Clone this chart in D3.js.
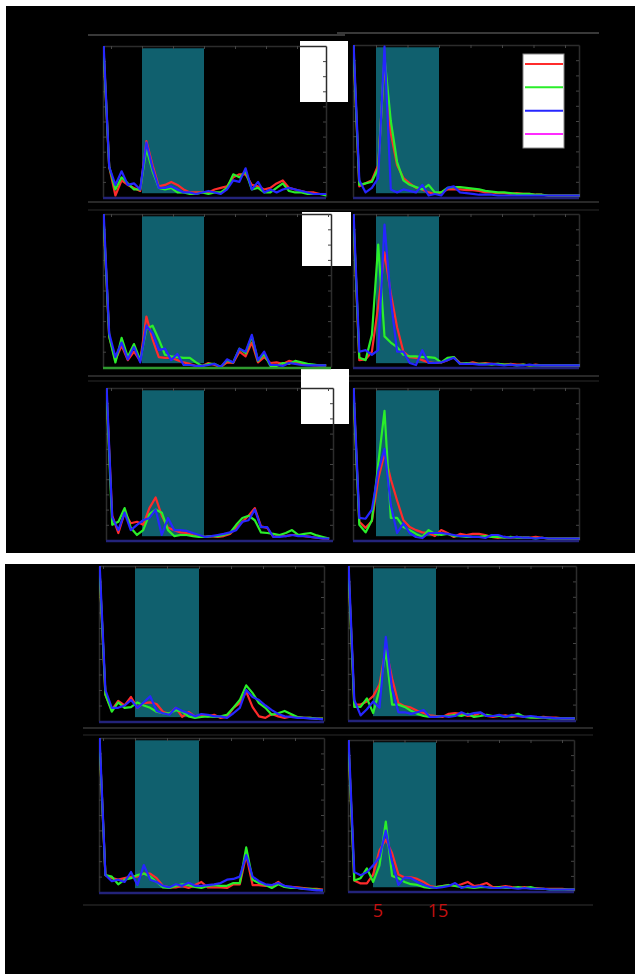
<!DOCTYPE HTML>
<html>
<head>
    <title>Spectra panels</title>
    <script src="https://d3js.org/d3.v7.min.js"></script>
    <style>
        body { margin: 0; background: #fff; }
    </style>
</head>
<body>
<script type="text/javascript">
    // frequency bins (first bin sits on the left axis of each panel)
    var freqs = [0, 1, 2, 3, 4, 5, 6, 7, 8, 9, 10, 11, 12, 13, 14, 15, 16, 17, 18,
        19, 20, 21, 22, 23, 24, 25, 26, 27, 28, 29, 30, 31, 32, 33, 34, 35, 36];
    var band = [5, 15];
    var bandLabels = ["5", "15"];
    var legendKeys = ["red", "green", "blue", "magenta"];

    // row 1
    var p1Red = [1.05, 0.2, 0.01, 0.11, 0.08, 0.06, 0.04, 0.37, 0.21, 0.07, 0.08, 0.10, 0.08, 0.05, 0.03, 0.03, 0.03, 0.03, 0.05, 0.06, 0.07, 0.13, 0.15, 0.15, 0.08, 0.07, 0.05, 0.06, 0.09, 0.11, 0.06, 0.05, 0.04, 0.03, 0.03, 0.02, 0.02];
    var p1Green = [1.05, 0.2, 0.05, 0.13, 0.09, 0.05, 0.05, 0.32, 0.17, 0.06, 0.05, 0.06, 0.03, 0.03, 0.02, 0.02, 0.03, 0.02, 0.03, 0.03, 0.06, 0.15, 0.13, 0.17, 0.05, 0.06, 0.03, 0.03, 0.06, 0.09, 0.04, 0.03, 0.03, 0.02, 0.02, 0.02, 0.01];
    var p1Blue = [1.1, 0.2, 0.08, 0.17, 0.08, 0.09, 0.05, 0.36, 0.19, 0.06, 0.06, 0.07, 0.05, 0.03, 0.03, 0.02, 0.03, 0.04, 0.03, 0.02, 0.05, 0.11, 0.10, 0.19, 0.05, 0.10, 0.03, 0.05, 0.03, 0.05, 0.06, 0.05, 0.04, 0.03, 0.02, 0.02, 0.02];

    var p2Red = [1.05, 0.07, 0.09, 0.11, 0.21, 0.9, 0.42, 0.21, 0.125, 0.09, 0.06, 0.05, 0.03, 0.02, 0.03, 0.05, 0.05, 0.05, 0.045, 0.045, 0.04, 0.03, 0.03, 0.025, 0.025, 0.02, 0.025, 0.02, 0.02, 0.015, 0.015, 0.01, 0.01, 0.01, 0.01, 0.01, 0.01];
    var p2Green = [1.05, 0.08, 0.09, 0.10, 0.19, 0.92, 0.5, 0.23, 0.11, 0.08, 0.065, 0.05, 0.08, 0.03, 0.03, 0.06, 0.065, 0.065, 0.06, 0.055, 0.05, 0.04, 0.035, 0.03, 0.03, 0.025, 0.02, 0.02, 0.02, 0.015, 0.015, 0.01, 0.01, 0.01, 0.01, 0.01, 0.01];
    var p2Blue = [1.1, 0.11, 0.03, 0.06, 0.125, 0.99, 0.05, 0.03, 0.05, 0.04, 0.03, 0.08, 0.01, 0.02, 0.01, 0.06, 0.07, 0.03, 0.025, 0.02, 0.015, 0.015, 0.015, 0.01, 0.01, 0.01, 0.01, 0.01, 0.01, 0.01, 0.01, 0.01, 0.01, 0.01, 0.01, 0.01, 0.01];

    // row 2
    var p3Red = [1.05, 0.2, 0.045, 0.14, 0.045, 0.10, 0.04, 0.33, 0.18, 0.065, 0.06, 0.06, 0.045, 0.03, 0.02, 0.007, 0.007, 0.026, 0.013, 0.0, 0.03, 0.026, 0.1, 0.07, 0.16, 0.03, 0.065, 0.026, 0.03, 0.02, 0.04, 0.03, 0.02, 0.015, 0.01, 0.01, 0.01];
    var p3Green = [1.05, 0.2, 0.03, 0.19, 0.065, 0.15, 0.045, 0.25, 0.27, 0.18, 0.08, 0.07, 0.065, 0.06, 0.06, 0.03, 0.007, 0.02, 0.02, 0.0, 0.045, 0.03, 0.12, 0.09, 0.2, 0.04, 0.085, 0.007, 0.007, 0.026, 0.02, 0.04, 0.03, 0.02, 0.015, 0.01, 0.01];
    var p3Blue = [1.1, 0.22, 0.065, 0.16, 0.05, 0.13, 0.03, 0.27, 0.22, 0.11, 0.12, 0.045, 0.085, 0.013, 0.013, 0.007, 0.007, 0.013, 0.02, 0.0, 0.05, 0.03, 0.12, 0.1, 0.21, 0.045, 0.1, 0.013, 0.013, 0.007, 0.026, 0.02, 0.013, 0.01, 0.01, 0.01, 0.01];

    var p4Red = [1.05, 0.045, 0.05, 0.1, 0.4, 0.75, 0.48, 0.26, 0.1, 0.065, 0.06, 0.045, 0.03, 0.026, 0.03, 0.045, 0.065, 0.026, 0.02, 0.03, 0.02, 0.025, 0.02, 0.02, 0.015, 0.02, 0.015, 0.015, 0.01, 0.015, 0.01, 0.01, 0.01, 0.01, 0.01, 0.01, 0.01];
    var p4Green = [1.05, 0.06, 0.045, 0.21, 0.8, 0.2, 0.16, 0.13, 0.08, 0.07, 0.07, 0.065, 0.065, 0.06, 0.03, 0.06, 0.065, 0.02, 0.026, 0.02, 0.02, 0.02, 0.015, 0.02, 0.015, 0.015, 0.01, 0.015, 0.01, 0.01, 0.01, 0.01, 0.01, 0.01, 0.01, 0.01, 0.01];
    var p4Blue = [1.1, 0.1, 0.11, 0.08, 0.11, 0.93, 0.44, 0.1, 0.1, 0.026, 0.013, 0.11, 0.026, 0.026, 0.03, 0.045, 0.06, 0.02, 0.02, 0.02, 0.015, 0.015, 0.02, 0.015, 0.01, 0.015, 0.01, 0.01, 0.015, 0.01, 0.01, 0.01, 0.01, 0.01, 0.01, 0.01, 0.01];

    // row 3
    var p5Red = [1.05, 0.16, 0.046, 0.18, 0.11, 0.12, 0.1, 0.21, 0.28, 0.16, 0.08, 0.065, 0.05, 0.046, 0.033, 0.026, 0.02, 0.026, 0.02, 0.026, 0.04, 0.08, 0.12, 0.16, 0.21, 0.09, 0.08, 0.02, 0.033, 0.026, 0.033, 0.033, 0.026, 0.02, 0.015, 0.01, 0.01];
    var p5Green = [1.05, 0.1, 0.12, 0.21, 0.08, 0.033, 0.065, 0.17, 0.2, 0.18, 0.065, 0.026, 0.033, 0.033, 0.026, 0.02, 0.02, 0.026, 0.026, 0.033, 0.046, 0.1, 0.145, 0.16, 0.13, 0.05, 0.046, 0.04, 0.033, 0.046, 0.065, 0.033, 0.04, 0.046, 0.03, 0.02, 0.01];
    var p5Blue = [1.1, 0.15, 0.065, 0.18, 0.065, 0.1, 0.13, 0.145, 0.2, 0.033, 0.145, 0.065, 0.065, 0.06, 0.046, 0.033, 0.02, 0.026, 0.033, 0.04, 0.05, 0.065, 0.12, 0.13, 0.2, 0.085, 0.085, 0.02, 0.02, 0.026, 0.033, 0.026, 0.026, 0.02, 0.015, 0.01, 0.01];

    var p6Red = [1.05, 0.12, 0.08, 0.125, 0.4, 0.57, 0.4, 0.26, 0.13, 0.085, 0.065, 0.05, 0.046, 0.026, 0.065, 0.046, 0.02, 0.04, 0.033, 0.04, 0.04, 0.033, 0.02, 0.013, 0.02, 0.015, 0.02, 0.015, 0.015, 0.02, 0.015, 0.01, 0.01, 0.01, 0.01, 0.01, 0.01];
    var p6Green = [1.05, 0.1, 0.05, 0.13, 0.5, 0.85, 0.145, 0.145, 0.085, 0.065, 0.04, 0.02, 0.065, 0.04, 0.033, 0.04, 0.026, 0.026, 0.02, 0.02, 0.02, 0.026, 0.02, 0.02, 0.015, 0.02, 0.015, 0.015, 0.015, 0.01, 0.015, 0.01, 0.01, 0.01, 0.01, 0.01, 0.01];
    var p6Blue = [1.1, 0.145, 0.14, 0.2, 0.45, 0.6, 0.23, 0.046, 0.11, 0.046, 0.02, 0.013, 0.046, 0.046, 0.046, 0.04, 0.033, 0.026, 0.026, 0.02, 0.02, 0.013, 0.033, 0.033, 0.02, 0.015, 0.02, 0.015, 0.015, 0.01, 0.015, 0.01, 0.01, 0.01, 0.01, 0.01, 0.01];

    // row 4
    var p7Red = [1.05, 0.17, 0.07, 0.13, 0.1, 0.155, 0.085, 0.115, 0.12, 0.11, 0.06, 0.045, 0.085, 0.026, 0.058, 0.03, 0.04, 0.03, 0.04, 0.02, 0.026, 0.085, 0.115, 0.19, 0.09, 0.03, 0.02, 0.045, 0.03, 0.02, 0.03, 0.026, 0.02, 0.02, 0.015, 0.015];
    var p7Green = [1.05, 0.17, 0.06, 0.12, 0.085, 0.09, 0.12, 0.1, 0.085, 0.06, 0.05, 0.05, 0.07, 0.06, 0.03, 0.02, 0.026, 0.03, 0.026, 0.03, 0.04, 0.085, 0.135, 0.23, 0.18, 0.115, 0.085, 0.04, 0.05, 0.065, 0.045, 0.026, 0.02, 0.02, 0.015, 0.015];
    var p7Blue = [1.1, 0.2, 0.085, 0.085, 0.1, 0.135, 0.085, 0.12, 0.16, 0.065, 0.05, 0.04, 0.085, 0.065, 0.05, 0.03, 0.045, 0.04, 0.03, 0.03, 0.02, 0.05, 0.085, 0.2, 0.155, 0.135, 0.1, 0.07, 0.045, 0.03, 0.026, 0.02, 0.02, 0.015, 0.015, 0.01];

    var p8Red = [1.05, 0.1, 0.1, 0.12, 0.155, 0.23, 0.47, 0.27, 0.11, 0.09, 0.08, 0.06, 0.045, 0.03, 0.026, 0.02, 0.04, 0.045, 0.04, 0.026, 0.03, 0.045, 0.026, 0.02, 0.026, 0.03, 0.02, 0.026, 0.02, 0.02, 0.015, 0.02, 0.015, 0.015, 0.01, 0.01, 0.01];
    var p8Green = [1.05, 0.085, 0.085, 0.14, 0.045, 0.2, 0.45, 0.1, 0.1, 0.085, 0.06, 0.04, 0.026, 0.02, 0.02, 0.026, 0.026, 0.033, 0.026, 0.04, 0.02, 0.026, 0.033, 0.026, 0.026, 0.02, 0.026, 0.04, 0.02, 0.015, 0.015, 0.015, 0.01, 0.01, 0.01, 0.01, 0.01];
    var p8Blue = [1.1, 0.13, 0.03, 0.07, 0.12, 0.08, 0.54, 0.2, 0.05, 0.05, 0.04, 0.05, 0.065, 0.02, 0.02, 0.026, 0.02, 0.026, 0.05, 0.033, 0.045, 0.05, 0.026, 0.026, 0.033, 0.02, 0.033, 0.026, 0.02, 0.026, 0.02, 0.015, 0.015, 0.01, 0.01, 0.01, 0.01];

    // row 5
    var p9Red = [1.05, 0.11, 0.09, 0.08, 0.09, 0.1, 0.1, 0.12, 0.12, 0.09, 0.04, 0.03, 0.03, 0.04, 0.026, 0.045, 0.065, 0.03, 0.03, 0.03, 0.026, 0.05, 0.05, 0.24, 0.045, 0.045, 0.04, 0.04, 0.065, 0.033, 0.033, 0.03, 0.026, 0.02, 0.02, 0.015];
    var p9Green = [1.05, 0.11, 0.1, 0.05, 0.08, 0.09, 0.11, 0.12, 0.1, 0.065, 0.03, 0.026, 0.04, 0.05, 0.045, 0.033, 0.026, 0.04, 0.045, 0.04, 0.04, 0.058, 0.058, 0.29, 0.08, 0.058, 0.045, 0.026, 0.05, 0.033, 0.026, 0.026, 0.02, 0.02, 0.015, 0.01];
    var p9Blue = [1.1, 0.11, 0.07, 0.08, 0.065, 0.13, 0.045, 0.175, 0.08, 0.065, 0.04, 0.03, 0.05, 0.04, 0.06, 0.04, 0.04, 0.045, 0.05, 0.058, 0.08, 0.085, 0.1, 0.24, 0.1, 0.07, 0.05, 0.045, 0.058, 0.04, 0.033, 0.026, 0.02, 0.015, 0.01, 0.01];

    var p10Red = [1.05, 0.07, 0.05, 0.05, 0.11, 0.27, 0.34, 0.25, 0.11, 0.09, 0.09, 0.08, 0.06, 0.033, 0.026, 0.033, 0.04, 0.033, 0.045, 0.06, 0.033, 0.04, 0.053, 0.026, 0.026, 0.033, 0.026, 0.02, 0.026, 0.02, 0.02, 0.015, 0.015, 0.015, 0.015, 0.01, 0.01];
    var p10Green = [1.05, 0.07, 0.085, 0.15, 0.06, 0.17, 0.46, 0.1, 0.085, 0.06, 0.045, 0.04, 0.026, 0.02, 0.026, 0.033, 0.04, 0.033, 0.026, 0.026, 0.02, 0.026, 0.026, 0.02, 0.026, 0.02, 0.02, 0.026, 0.02, 0.026, 0.015, 0.015, 0.01, 0.01, 0.01, 0.01, 0.01];
    var p10Blue = [1.1, 0.125, 0.105, 0.125, 0.17, 0.225, 0.4, 0.19, 0.04, 0.09, 0.085, 0.06, 0.04, 0.026, 0.02, 0.026, 0.033, 0.053, 0.02, 0.033, 0.026, 0.033, 0.026, 0.02, 0.02, 0.026, 0.02, 0.015, 0.02, 0.015, 0.015, 0.015, 0.01, 0.01, 0.01, 0.01, 0.01];

    var colors = { red: "#ff2b2b", green: "#2aee2a", blue: "#2626ff", magenta: "#ff2bff" };

    var width = 635,
        height = 974;

    // panel boxes (x5 = pixel where the band starts, k = px per bin)
    var panels = [
        { x: 103, y: 46, w: 223, h: 151, x5: 142, k: 6.2, base: "#23237a", s: [p1Red, p1Green, p1Blue] },
        { x: 353, y: 45, w: 226, h: 152, x5: 376, k: 6.3, base: "#23237a", s: [p2Red, p2Green, p2Blue] },
        { x: 103, y: 214, w: 228, h: 153, x5: 142, k: 6.2, base: "#2f9a2f", s: [p3Red, p3Green, p3Blue] },
        { x: 353, y: 214, w: 226, h: 153, x5: 376, k: 6.3, base: "#23237a", s: [p4Red, p4Green, p4Blue] },
        { x: 106, y: 388, w: 227, h: 152, x5: 142, k: 6.2, base: "#23237a", s: [p5Red, p5Green, p5Blue] },
        { x: 353, y: 388, w: 226, h: 152, x5: 376, k: 6.3, base: "#23237a", s: [p6Red, p6Green, p6Blue] },
        { x: 99, y: 566, w: 225, h: 155, x5: 135, k: 6.4, base: "#23237a", s: [p7Red, p7Green, p7Blue] },
        { x: 348, y: 566, w: 228, h: 154, x5: 373, k: 6.3, base: "#23237a", s: [p8Red, p8Green, p8Blue] },
        { x: 99, y: 738, w: 225, h: 154, x5: 135, k: 6.4, base: "#23237a", s: [p9Red, p9Green, p9Blue] },
        { x: 348, y: 740, w: 226, h: 151, x5: 373, k: 6.3, base: "#23237a", s: [p10Red, p10Green, p10Blue] }
    ];

    var svg = d3.select("body").append("svg")
        .attr("width", width)
        .attr("height", height);

    // two black screenshot areas
    svg.append("rect").attr("x", 6).attr("y", 6).attr("width", 629).attr("height", 547).attr("fill", "#000");
    svg.append("rect").attr("x", 5).attr("y", 564).attr("width", 630).attr("height", 410).attr("fill", "#000");

    // figure separator lines
    var seps = [
        [88, 345, 35, "#707070"], [337, 599, 33, "#707070"],
        [88, 599, 202, "#505050"], [88, 599, 210, "#2a2a2a"],
        [88, 599, 376, "#505050"], [88, 599, 381, "#2a2a2a"],
        [83, 593, 728, "#505050"], [83, 593, 735, "#2a2a2a"],
        [83, 593, 905, "#333333"]
    ];
    svg.selectAll("line.sep").data(seps).enter().append("line")
        .attr("class", "sep")
        .attr("x1", function(d) { return d[0]; })
        .attr("x2", function(d) { return d[1]; })
        .attr("y1", function(d) { return d[2]; })
        .attr("y2", function(d) { return d[2]; })
        .attr("stroke", function(d) { return d[3]; })
        .attr("stroke-width", 1.2);

    // cropped white boxes sitting behind the left panels' corners
    var whiteBoxes = [[300, 41, 48, 61], [302, 212, 49, 54], [301, 369, 48, 55]];
    svg.selectAll("rect.wb").data(whiteBoxes).enter().append("rect")
        .attr("class", "wb")
        .attr("x", function(d) { return d[0]; })
        .attr("y", function(d) { return d[1]; })
        .attr("width", function(d) { return d[2]; })
        .attr("height", function(d) { return d[3]; })
        .attr("fill", "#fff");

    var yTicks = [0.1, 0.2, 0.3, 0.4, 0.5, 0.6, 0.7, 0.8, 0.9];

    panels.forEach(function(p, i) {
        var lo = band[0] - (p.x5 - p.x) / p.k;
        var hi = band[0] + (p.x + p.w - p.x5) / p.k;
        var x = d3.scaleLinear().domain([lo, hi]).range([p.x, p.x + p.w]);
        var y = d3.scaleLinear().domain([0, 1]).range([p.y + p.h, p.y]);

        var g = svg.append("g");

        svg.append("clipPath").attr("id", "clip" + i)
            .append("rect")
            .attr("x", p.x).attr("y", p.y)
            .attr("width", p.w + 1).attr("height", p.h);

        // shaded band
        g.append("rect")
            .attr("x", x(band[0]))
            .attr("y", y(0.985))
            .attr("width", x(band[1]) - x(band[0]))
            .attr("height", y(0.025) - y(0.985))
            .attr("fill", "#10606e");

        // axes
        g.append("g")
            .attr("transform", "translate(0," + p.y + ")")
            .call(d3.axisTop(x).ticks(8).tickSize(-3).tickSizeOuter(0).tickFormat(""));
        g.append("g")
            .attr("transform", "translate(" + p.x + ",0)")
            .call(d3.axisLeft(y).tickValues(yTicks).tickSize(-3).tickSizeOuter(0).tickFormat(""));
        g.append("g")
            .attr("transform", "translate(" + (p.x + p.w) + ",0)")
            .call(d3.axisRight(y).tickValues(yTicks).tickSize(-3).tickSizeOuter(0).tickFormat(""));
        g.selectAll(".domain").attr("stroke", "#2c2c2c").attr("stroke-width", 1.5);
        g.selectAll(".tick line").attr("stroke", "#444");

        // baseline
        g.append("line")
            .attr("x1", p.x).attr("x2", p.x + p.w)
            .attr("y1", y(0) + 1).attr("y2", y(0) + 1)
            .attr("stroke", p.base).attr("stroke-width", 2.5);

        var line = d3.line()
            .x(function(d, j) { return x(lo + freqs[j]); })
            .y(function(d) { return y(d); });

        ["red", "green", "blue"].forEach(function(c, j) {
            g.append("path")
                .attr("clip-path", "url(#clip" + i + ")")
                .attr("d", line(p.s[j]))
                .attr("fill", "none")
                .attr("stroke", colors[c])
                .attr("stroke-width", 2.2)
                .attr("stroke-linejoin", "round");
        });

        // band edge labels under the last panel
        if (i == panels.length - 1) {
            svg.selectAll("text.bl").data(band).enter().append("text")
                .attr("class", "bl")
                .attr("x", function(d, j) { return x(d) + (j == 0 ? 5 : 2); })
                .attr("y", 917)
                .attr("text-anchor", "middle")
                .attr("font-family", "Open Sans, sans-serif")
                .attr("font-size", 18)
                .attr("fill", "#c41010")
                .text(function(d, j) { return bandLabels[j]; });
        }
    });

    // legend of the top right panel (entries only, labels cropped away)
    var legend = svg.append("g");
    legend.append("rect")
        .attr("x", 523).attr("y", 54).attr("width", 41).attr("height", 94)
        .attr("fill", "#fff").attr("stroke", "#888");
    var ly = d3.scalePoint().domain(legendKeys).range([64, 134]);
    legend.selectAll("line").data(legendKeys).enter().append("line")
        .attr("x1", 525).attr("x2", 563)
        .attr("y1", function(d) { return ly(d); })
        .attr("y2", function(d) { return ly(d); })
        .attr("stroke", function(d) { return colors[d]; })
        .attr("stroke-width", 2);
</script>
</body>
</html>
